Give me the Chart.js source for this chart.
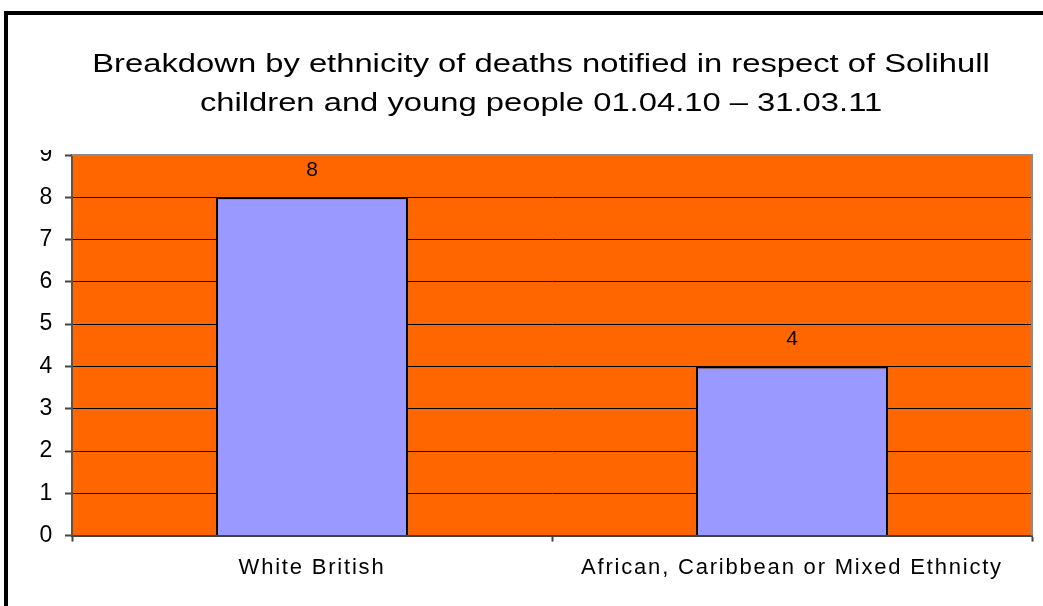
<!DOCTYPE html>
<html>
<head>
<meta charset="utf-8">
<script src="https://cdn.jsdelivr.net/npm/chart.js@4"></script>
<style>
  html, body { margin: 0; padding: 0; background: #fff; overflow: hidden; }
  #frame {
    position: absolute; left: 4px; top: 11px;
    width: 1100px; height: 700px;
    border-left: 4px solid #000; border-top: 4px solid #000;
  }
  #wrap { position: absolute; left: 0; top: 0; width: 1043px; height: 606px; }
</style>
</head>
<body>
<div id="frame"></div>
<div id="wrap"><canvas id="barChart" width="1043" height="606"></canvas></div>
<script>
// --- Data ---
const ethnicities = ["White British", "African, Caribbean or Mixed Ethnicty"];
const deaths = [8, 4];
const yTicks = [0, 1, 2, 3, 4, 5, 6, 7, 8, 9];
const titleLines = [
  "Breakdown by ethnicity of deaths notified in respect of Solihull",
  "children and young people 01.04.10 \u2013 31.03.11"
];

const FONT = "'Liberation Sans', Arial, sans-serif";
const TITLE_X = 541;        // centre of the title block
const TITLE_STRETCH = 1.31; // the old title font is drawn wide

// orange plot background + grey frame on top/right
const plotBg = {
  id: "plotBg",
  beforeDraw(chart) {
    const { ctx, chartArea: a } = chart;
    ctx.save();
    ctx.fillStyle = "#FF6600";
    ctx.fillRect(a.left, a.top, a.right - a.left, a.bottom - a.top);
    ctx.restore();
    // axis labels are spaced out a little
    ctx.letterSpacing = "1.8px";
  },
  beforeDatasetsDraw(chart) {
    chart.ctx.letterSpacing = "0px";
  },
  afterDatasetsDraw(chart) {
    const { ctx, chartArea: a } = chart;
    ctx.save();
    ctx.strokeStyle = "#8c8c8c";
    ctx.lineWidth = 2;
    ctx.beginPath();
    ctx.moveTo(a.left, a.top);
    ctx.lineTo(a.right, a.top);
    ctx.lineTo(a.right, a.bottom);
    ctx.stroke();
    ctx.restore();
  }
};

// value labels above each bar
const valueLabels = {
  id: "valueLabels",
  afterDatasetsDraw(chart) {
    const { ctx } = chart;
    const meta = chart.getDatasetMeta(0);
    ctx.save();
    ctx.letterSpacing = "0px";
    ctx.font = "21px " + FONT;
    ctx.fillStyle = "#000";
    ctx.textAlign = "center";
    ctx.textBaseline = "middle";
    meta.data.forEach((bar, i) => {
      ctx.fillText(String(deaths[i]), bar.x, bar.y - 27);
    });
    ctx.restore();
  }
};

// two-line title, plus the top tick label cut off under it
const titleBlock = {
  id: "titleBlock",
  afterDraw(chart) {
    const { ctx, chartArea: a } = chart;
    ctx.save();
    ctx.letterSpacing = "0px";
    ctx.fillStyle = "#fff";
    ctx.fillRect(10, a.top - 35, a.left - 18, 30);

    ctx.fillStyle = "#000";
    ctx.font = "25px " + FONT;
    ctx.textAlign = "center";
    ctx.textBaseline = "alphabetic";
    titleLines.forEach((line, i) => {
      ctx.save();
      ctx.translate(TITLE_X, a.top - 83 + i * 39);
      ctx.scale(TITLE_STRETCH, 1);
      ctx.fillText(line, 0, 0);
      ctx.restore();
    });
    ctx.restore();
  }
};

new Chart(document.getElementById("barChart"), {
  type: "bar",
  data: {
    labels: ethnicities,
    datasets: [{
      data: deaths,
      backgroundColor: "#9999FF",
      borderColor: "#000",
      borderWidth: 2,
      barPercentage: 0.4,
      categoryPercentage: 1
    }]
  },
  options: {
    responsive: false,
    animation: false,
    layout: { padding: { left: 38, right: 11, top: 155, bottom: 12 } },
    plugins: {
      legend: { display: false },
      tooltip: { enabled: false },
      title: { display: false }
    },
    scales: {
      x: {
        grid: {
          offset: true,
          drawOnChartArea: false,
          tickLength: 6,
          tickColor: "#444",
          tickWidth: 2
        },
        border: { color: "#444", width: 2 },
        ticks: {
          color: "#000",
          padding: 13,
          maxRotation: 0,
          font: { family: FONT, size: 22 }
        }
      },
      y: {
        min: 0,
        max: 9,
        afterFit(scale) { scale.width = 34; },
        afterBuildTicks(scale) { scale.ticks = yTicks.map(v => ({ value: v })); },
        grid: {
          color: ctx => (ctx.tick && ctx.tick.value === 9 ? "rgba(0,0,0,0)" : "#000"),
          lineWidth: 1,
          tickLength: 7,
          tickColor: "#444",
          tickWidth: 2
        },
        border: { color: "#555", width: 2 },
        ticks: {
          color: "#000",
          padding: 11,
          font: { family: FONT, size: 23 }
        }
      }
    }
  },
  plugins: [plotBg, valueLabels, titleBlock]
});
</script>
</body>
</html>
